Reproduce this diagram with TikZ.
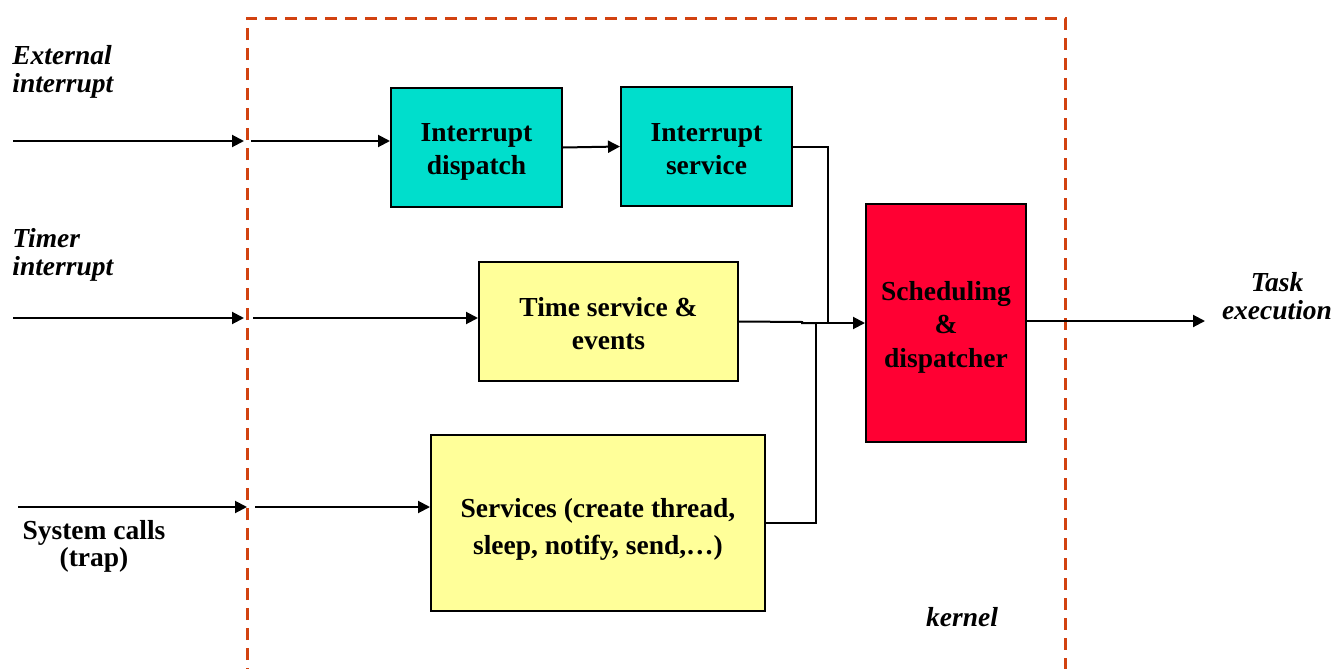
\documentclass[tikz,border=0pt]{standalone}
\usepackage{fontspec}
\setmainfont{Liberation Serif}
\usetikzlibrary{arrows.meta,calc}
\definecolor{tealbox}{RGB}{0,222,204}
\definecolor{yellowbox}{RGB}{255,255,153}
\definecolor{redbox}{RGB}{255,0,51}
\definecolor{kernelline}{RGB}{210,66,16}
% strut that lowers the text block inside a box
\newcommand\toppad[1]{\rule{0pt}{#1}}
\tikzset{
  block/.style={draw=black, line width=1pt, align=center, inner sep=0pt,
    font=\fontsize{13.75}{16.5}\selectfont\bfseries},
  label/.style={inner sep=0pt, font=\fontsize{13.75}{14}\selectfont\bfseries},
  arr/.style={-{Triangle[length=6pt,width=6pt]}, line width=1pt},
  wire/.style={line width=1pt},
  kernelbox/.style={draw=kernelline, line width=1.5pt, dash pattern=on 6pt off 4pt}
}
\begin{document}
\begin{tikzpicture}[x=0.5pt,y=-0.5pt]
\useasboundingbox (0,0) rectangle (1344,669);

% kernel boundary, open at the bottom
\begin{scope}
  \clip (0,0) rectangle (1344,669);
  \draw[kernelbox] (247,700) -- (247,18) -- (1065,18) -- (1065,700);
\end{scope}

% kernel blocks
\node[block, fill=tealbox, minimum width=85.5pt, minimum height=59.5pt]
  (idisp) at (476.5,147.5) {\toppad{13.3pt}Interrupt\\dispatch};
\node[block, fill=tealbox, minimum width=85.5pt, minimum height=59.5pt]
  (isvc) at (706.5,146.5) {\toppad{11.8pt}Interrupt\\service};
\node[block, fill=yellowbox, minimum width=129.5pt, minimum height=59.5pt]
  (tse) at (608.5,321.5) {\toppad{11.8pt}Time service \&\\events};
\node[block, fill=yellowbox, minimum width=167pt, minimum height=88pt,
  font=\fontsize{13.75}{18.5}\selectfont\bfseries]
  (svc) at (598,523) {\toppad{16pt}Services (create thread,\\sleep, notify, send,…)};
\node[block, fill=redbox, minimum width=80pt, minimum height=119pt,
  font=\fontsize{13.75}{16.75}\selectfont\bfseries]
  (sched) at (946,323) {\toppad{13.8pt}Scheduling\\\&\\dispatcher};

% outside labels
\node[label, align=left, anchor=west, font=\fontsize{13.75}{14}\selectfont\bfseries\itshape]
  (extlbl) at (12,72) {External\\interrupt};
\node[label, align=left, anchor=west, font=\fontsize{13.75}{14}\selectfont\bfseries\itshape]
  (timlbl) at (12,255) {Timer\\interrupt};
\node[label, align=center, font=\fontsize{13.75}{12}\selectfont\bfseries]
  (syslbl) at (94,546) {System calls\\(trap)};
\node[label, align=center, font=\fontsize{13.75}{14}\selectfont\bfseries\itshape]
  (tasklbl) at (1277,296) {Task\\execution};
\node[label, font=\fontsize{13.75}{14}\selectfont\bfseries\itshape]
  (kernlbl) at (962,617) {kernel};

% free ends of the input and output arrows
\coordinate (ext0) at (13,141);
\coordinate (ext1) at (244,141);
\coordinate (ext2) at (251,141);
\coordinate (tim0) at (13,318);
\coordinate (tim1) at (244,318);
\coordinate (tim2) at (253,318);
\coordinate (sys0) at (18,507);
\coordinate (sys1) at (247,507);
\coordinate (sys2) at (255,507);
\coordinate (out1) at (1205,321);
\coordinate (jA) at (828,323);
\coordinate (jB) at (816,323);

% external interrupt path
\draw[arr] (ext0) -- (ext1);
\draw[arr] (ext2) -- (ext2 -| idisp.west);
\draw[arr] (idisp.east) -- (isvc.west);

% timer interrupt path
\draw[arr] (tim0) -- (tim1);
\draw[arr] (tim2) -- (tim2 -| tse.west);

% system call path
\draw[arr] (sys0) -- (sys1);
\draw[arr] (sys2) -- (sys2 -| svc.west);

% merge into the scheduler
\draw[wire] (isvc.east) -| (jA);
\draw[wire] (svc.east) -| (jB);
\draw[wire] (tse.east) -- (802,322) -- (802,323) -- (jB);
\draw[arr] (jB) -- (jB -| sched.west);

% output to task execution
\draw[arr] (sched.east |- out1) -- (out1);
\end{tikzpicture}
\end{document}
